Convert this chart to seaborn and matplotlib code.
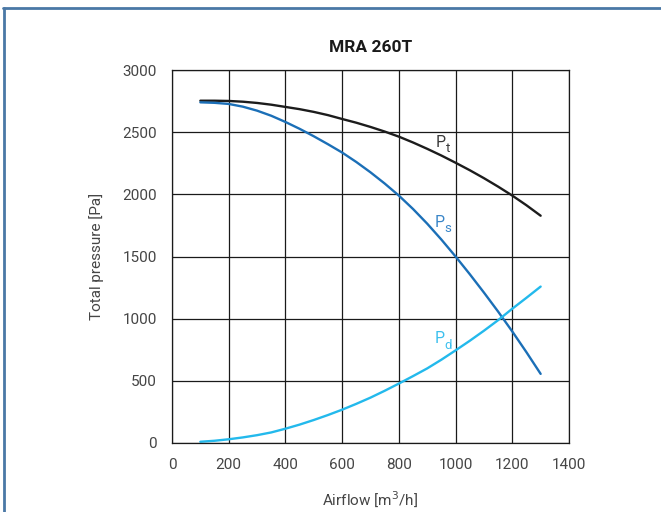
import matplotlib
matplotlib.use("Agg")
import matplotlib.pyplot as plt
import seaborn as sns
import pandas as pd
from matplotlib.lines import Line2D

airflow = [100, 150, 200, 250, 300, 350, 400, 450, 500, 550, 600, 650, 700,
           750, 800, 850, 900, 950, 1000, 1050, 1100, 1150, 1200, 1250, 1300]
pt = [2753, 2753, 2751, 2745, 2735, 2721, 2703, 2685, 2663, 2637, 2606, 2576, 2542,
      2505, 2464, 2417, 2366, 2312, 2254, 2194, 2130, 2062, 1990, 1912, 1828]
ps = [2740, 2736, 2727, 2705, 2673, 2632, 2582, 2527, 2467, 2403, 2336, 2260, 2177,
      2087, 1990, 1882, 1764, 1636, 1500, 1358, 1210, 1057, 897, 730, 556]
pd_ = [10, 18, 30, 45, 63, 85, 115, 148, 185, 225, 268, 315, 365,
       420, 478, 538, 600, 670, 745, 822, 903, 988, 1080, 1168, 1258]

labels = ["t", "s", "d"]
label_x = [929, 925, 925]
label_y = [2381, 1740, 802]

df = pd.concat([
    pd.DataFrame({"Airflow": airflow, "Pressure": pt, "curve": "Pt"}),
    pd.DataFrame({"Airflow": airflow, "Pressure": ps, "curve": "Ps"}),
    pd.DataFrame({"Airflow": airflow, "Pressure": pd_, "curve": "Pd"}),
])
palette = {"Pt": "#1c1c1c", "Ps": "#1b6fb7", "Pd": "#23b9ec"}
label_colors = ["#3a3a3a", "#3a86c8", "#3cc0ee"]

sns.set_style("white")
plt.rcParams['font.family'] = ['Roboto', 'DejaVu Sans']

fig = plt.figure(figsize=(6.61, 5.12), dpi=100)
ax = fig.add_axes([172/661, 1-443/512, (569-172)/661, (443-70)/512])

sns.lineplot(data=df, x="Airflow", y="Pressure", hue="curve", palette=palette,
             linewidth=1.7, legend=False, ax=ax, sort=False, estimator=None)
for ln in ax.lines:
    ln.set_solid_capstyle("round")
    ln.set_solid_joinstyle("round")

ax.set_xlim(0, 1400)
ax.set_ylim(0, 3000)
ax.set_xticks(range(0, 1401, 200))
ax.set_yticks(range(0, 3001, 500))
ax.grid(True, color="#1a1a1a", linewidth=0.9)
ax.set_axisbelow(True)
for s in ax.spines.values():
    s.set_color("#1a1a1a")
    s.set_linewidth(0.9)
txt = "#454545"
ax.tick_params(length=0, labelsize=11, labelcolor=txt, pad=11)
ax.set_xlabel("Airflow [m$^3$/h]", fontsize=11, color=txt, labelpad=12)
ax.set_ylabel("Total pressure [Pa]", fontsize=11, color=txt, labelpad=13)
ax.set_title("MRA 260T", fontsize=12.5, fontweight="bold", color="#1a1a1a", pad=13)

for sub, lx, ly, c in zip(labels, label_x, label_y, label_colors):
    ax.text(lx, ly, "P", color=c, fontsize=11.5, ha="left", va="baseline")
    ax.annotate(sub, xy=(lx, ly), xytext=(10.5, -5.5), textcoords="offset pixels",
                color=c, fontsize=9.5, ha="left", va="baseline")

border = "#4a78a6"
fig.add_artist(Line2D([3/661, 1], [1-7.5/512, 1-7.5/512], color=border, linewidth=2, transform=fig.transFigure))
fig.add_artist(Line2D([4/661, 4/661], [0, 1-7.5/512], color=border, linewidth=2, transform=fig.transFigure))

fig.savefig("out.png", dpi=100)
